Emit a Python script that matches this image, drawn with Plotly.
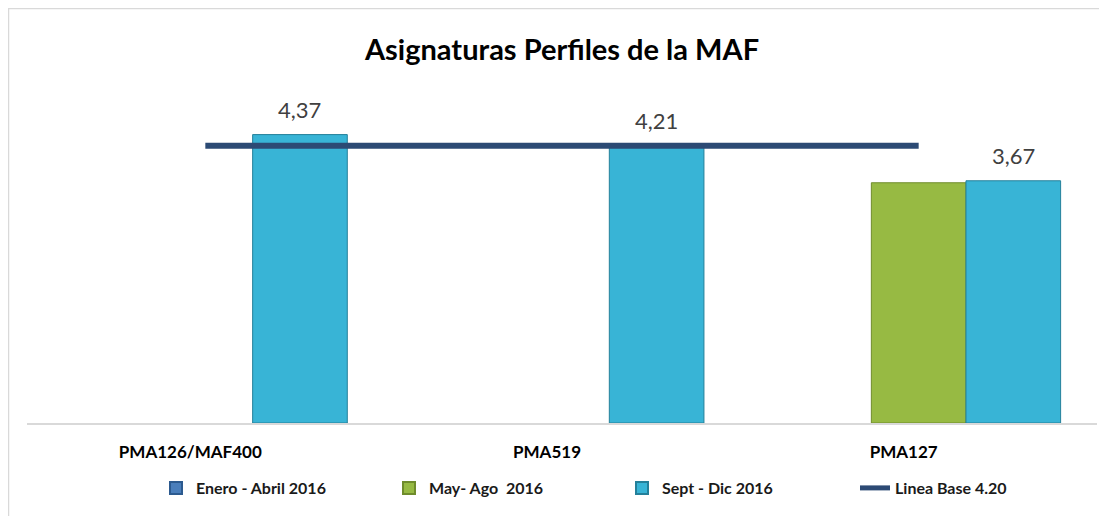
import plotly.graph_objects as go

categories = ["PMA126/MAF400", "PMA519", "PMA127"]
enero_abril = [None, None, None]
may_ago = [None, None, 3.64]
sept_dic = [4.37, 4.21, 3.67]
linea_base = [4.20, 4.20, 4.20]

series_names = ["Enero - Abril 2016", "May- Ago  2016", "Sept - Dic 2016", "Linea Base 4.20"]

W, H = 1107, 516
ML, MR, MT, MB = 19, 18, 85, 101
BARGAP = 0.204
FONT = "Lato"

fig = go.Figure()
fig.add_trace(go.Bar(x=categories, y=enero_abril, name=series_names[0],
                     marker=dict(color="#4a7ebb", line=dict(color="#2c5a8f", width=1))))
fig.add_trace(go.Bar(x=categories, y=may_ago, name=series_names[1],
                     marker=dict(color="#97ba43", line=dict(color="#6f8c2c", width=1))))
fig.add_trace(go.Bar(x=categories, y=sept_dic, name=series_names[2],
                     marker=dict(color="#38b4d6", line=dict(color="#24809a", width=1))))
fig.add_trace(go.Scatter(x=categories, y=linea_base, name=series_names[3], mode="lines",
                         line=dict(color="#2c4a74", width=6)))

# data labels over the Sept - Dic bars
plot_w = W - ML - MR
plot_h = H - MT - MB
bar_px = plot_w / len(categories) * (1 - BARGAP) / 3
annotations = []
for c, v in zip(categories, sept_dic):
    annotations.append(dict(x=c, y=v, xref="x", yref="y", xshift=bar_px, yshift=25,
                            text=f"{v:.2f}".replace(".", ","), showarrow=False,
                            yanchor="middle",
                            font=dict(family=FONT, size=22, color="#404040")))

fig.update_layout(
    width=W, height=H,
    margin=dict(l=ML, r=MR, t=MT, b=MB, autoexpand=False),
    paper_bgcolor="white", plot_bgcolor="white",
    barmode="group", bargap=BARGAP, bargroupgap=0,
    title=dict(text="<b>Asignaturas Perfiles de la MAF</b>", x=0.5, xref="paper",
               xanchor="center", y=1 - 42 / H, yanchor="middle",
               font=dict(family=FONT, size=29, color="#000000")),
    font=dict(family=FONT),
    xaxis=dict(showline=True, linecolor="#d9d9d9", linewidth=1.5, showgrid=False,
               ticks="", ticklabelstandoff=13, ticklabelshift=-15,
               tickfont=dict(family=FONT, size=17, color="#000000"),
               tickprefix="<b>", ticksuffix="</b>"),
    yaxis=dict(range=[0, 5], visible=False, showgrid=False),
    showlegend=True,
    legend=dict(orientation="h", x=(148 - ML) / plot_w, xanchor="left",
                y=(415 - 480) / plot_h, yanchor="middle",
                entrywidthmode="pixels", entrywidth=188,
                font=dict(family=FONT, size=16, color="#1a1a1a"),
                itemsizing="constant"),
    annotations=annotations,
    shapes=[dict(type="rect", xref="paper", yref="paper",
                 x0=(0 - ML) / plot_w, x1=1.05, y0=-0.4, y1=(415 - 0) / plot_h,
                 line=dict(color="#d9d9d9", width=2.5), fillcolor="rgba(0,0,0,0)", layer="below")],
)
for tr in fig.data:
    tr.name = f"<b>{tr.name}</b>"

fig.write_html("out.html")
